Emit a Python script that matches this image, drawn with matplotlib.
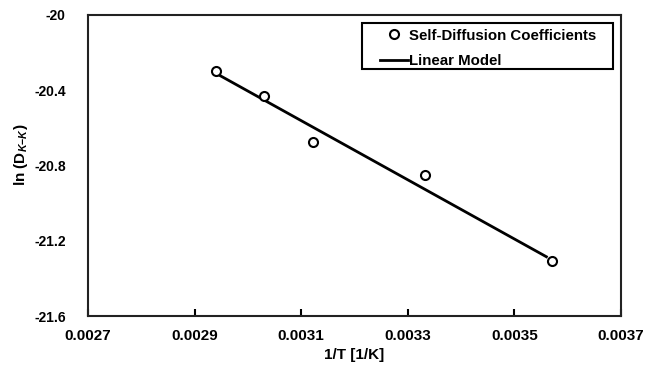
import matplotlib
matplotlib.use('Agg')
import matplotlib.pyplot as plt
from matplotlib.patches import Rectangle

# Self-diffusion data
inv_T = [0.00294, 0.00303, 0.003122, 0.003332, 0.003571]
ln_D = [-20.30, -20.43, -20.675, -20.85, -21.31]

# linear model endpoints
model_x = [0.00294, 0.00356]
model_y = [-20.31, -21.285]

x_ticks = [0.0027, 0.0029, 0.0031, 0.0033, 0.0035, 0.0037]
y_ticks = [-21.6, -21.2, -20.8, -20.4, -20]

plt.rcParams['font.family'] = ['Liberation Sans', 'DejaVu Sans']
plt.rcParams['font.weight'] = 'bold'
plt.rcParams['mathtext.fontset'] = 'custom'
plt.rcParams['mathtext.rm'] = 'Liberation Sans:bold'
plt.rcParams['mathtext.it'] = 'Liberation Sans:bold:italic'

fig = plt.figure(figsize=(6.58, 3.70), dpi=100)
ax = fig.add_axes([88 / 658, 1 - 316 / 370, 533 / 658, 301 / 370])

ax.plot(inv_T, ln_D, linestyle='none', marker='o', markersize=6.5,
        markerfacecolor='white', markeredgecolor='black', markeredgewidth=1.5,
        label='Self-Diffusion Coefficients', zorder=3)
ax.plot(model_x, model_y, color='black', linewidth=2, label='Linear Model', zorder=2)

ax.set_xlim(0.0027, 0.0037)
ax.set_ylim(-21.6, -20)
ax.set_xticks(x_ticks)
ax.set_xticklabels([f'{v:.4f}' for v in x_ticks])
ax.set_yticks(y_ticks)
ax.set_yticklabels(['-21.6', '-21.2', '-20.8', '-20.4', '-20'])
ax.tick_params(axis='x', direction='in', length=5, width=1.5, labelsize=11, pad=9)
ax.tick_params(axis='y', length=0, labelsize=10, pad=16)

for sp in ax.spines.values():
    sp.set_linewidth(1.5)
    sp.set_color('#222222')

ax.set_xlabel('1/T [1/K]', fontsize=11, fontweight='bold', labelpad=4)
ax.set_ylabel(r'ln (D$_{K\mathrm{-}K}$)', fontsize=11, fontweight='bold')
ax.yaxis.set_label_coords(-0.108, 0.535)

# legend without frame, box drawn separately (Excel-like padding)
leg = ax.legend(loc='upper left', bbox_to_anchor=(0.548, 0.955), fontsize=10.8,
                frameon=False, handlelength=1.85, handletextpad=0.05,
                borderpad=0, labelspacing=0.75, borderaxespad=0)
ax.add_patch(Rectangle(((362 - 88) / 533, (316 - 69) / 301), (613 - 362) / 533, 46 / 301,
                       transform=ax.transAxes, fill=False, edgecolor='black',
                       linewidth=1.5, zorder=4))

fig.savefig('out.png', dpi=100)
